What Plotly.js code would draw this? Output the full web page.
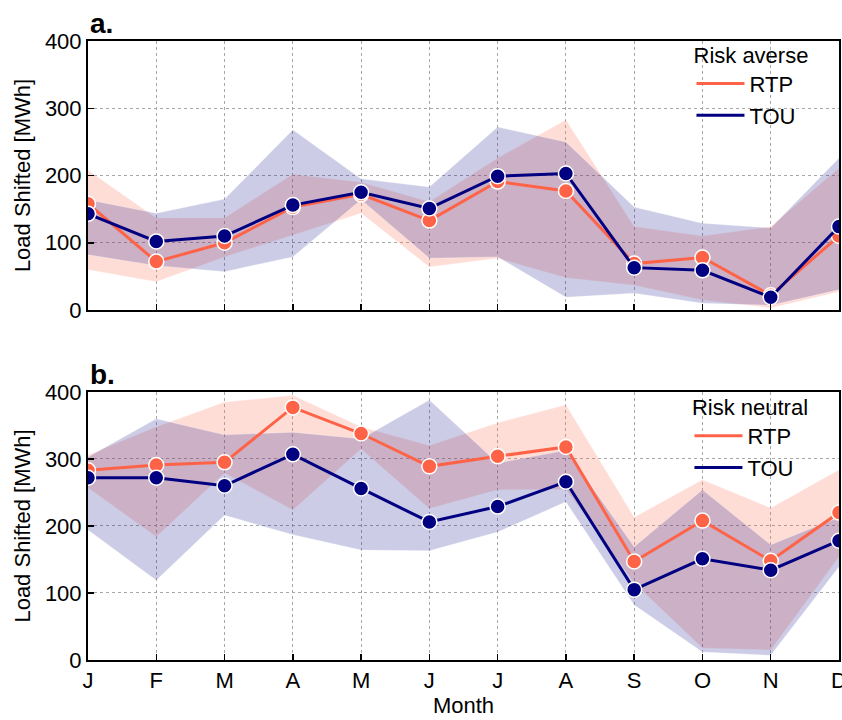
<!DOCTYPE html>
<html><head><meta charset="utf-8">
<script src="https://cdn.plot.ly/plotly-3.0.1.min.js"></script>
<style>html,body{margin:0;padding:0;background:#fff}#chart{width:842px;height:720px}</style>
</head><body><div id="chart"></div>
<script>
const months = ['J','F','M','A','M','J','J','A','S','O','N','D'];
const xIdx = [0,1,2,3,4,5,6,7,8,9,10,11];

// Panel a: Risk averse
const a_rtp    = [158, 72,100,153,172,133,191,177, 69, 78, 22,110];
const a_rtp_lo = [ 60, 42, 79,112,144, 64, 77, 48, 37, 15,  3, 27];
const a_rtp_hi = [208,137,137,202,190,161,226,283,124,110,124,211];
const a_tou    = [143,102,110,156,175,151,199,203, 63, 59, 19,124];
const a_tou_lo = [ 82, 66, 57, 79,164, 77, 79, 19, 25, 10,  7, 30];
const a_tou_hi = [164,144,165,268,195,183,272,250,153,129,122,226];

// Panel b: Risk neutral
const b_rtp    = [283,291,295,377,338,289,304,318,147,208,148,220];
const b_rtp_lo = [257,184,279,224,315,226,254,255,115, 18, 15,154];
const b_rtp_hi = [306,348,385,395,348,320,354,381,213,269,227,284];
const b_tou    = [272,272,260,307,256,206,229,266,105,151,134,178];
const b_tou_lo = [194,119,216,187,164,163,191,236, 82, 12,  7,139];
const b_tou_hi = [303,360,336,340,330,388,294,313,169,254,172,213];

const RTP = '#FF6347', TOU = '#000080';
const RTP_FILL = 'rgba(255,99,71,0.22)', TOU_FILL = 'rgba(0,0,128,0.2)';
const EDGE = 'rgba(255,255,255,0.35)';
const FONT = 'Liberation Sans, Arial, sans-serif';
const FS = 22;

function band(lo, hi, fill, xa, ya){
  return [
    {x:xIdx, y:lo, xaxis:xa, yaxis:ya, mode:'lines', line:{width:0.8,color:EDGE}, showlegend:false, hoverinfo:'skip'},
    {x:xIdx, y:hi, xaxis:xa, yaxis:ya, mode:'lines', line:{width:0.8,color:EDGE}, fill:'tonexty', fillcolor:fill, showlegend:false, hoverinfo:'skip'}
  ];
}
function line(y, color, xa, ya){
  return {x:xIdx, y:y, xaxis:xa, yaxis:ya, mode:'lines+markers', line:{color:color,width:3},
    marker:{size:15,color:color,line:{color:'#fff',width:1.5}}, showlegend:false};
}
function leg(name, color, lg, xa, ya){
  return {x:[null], y:[null], xaxis:xa, yaxis:ya, mode:'lines', name:name, line:{color:color,width:3}, legend:lg, showlegend:true};
}

const data = [
  ...band(a_rtp_lo, a_rtp_hi, RTP_FILL, 'x', 'y'),
  ...band(a_tou_lo, a_tou_hi, TOU_FILL, 'x', 'y'),
  line(a_rtp, RTP, 'x', 'y'),
  line(a_tou, TOU, 'x', 'y'),
  leg('RTP', RTP, 'legend', 'x', 'y'),
  leg('TOU', TOU, 'legend', 'x', 'y'),
  ...band(b_rtp_lo, b_rtp_hi, RTP_FILL, 'x2', 'y2'),
  ...band(b_tou_lo, b_tou_hi, TOU_FILL, 'x2', 'y2'),
  line(b_rtp, RTP, 'x2', 'y2'),
  line(b_tou, TOU, 'x2', 'y2'),
  leg('RTP', RTP, 'legend2', 'x2', 'y2'),
  leg('TOU', TOU, 'legend2', 'x2', 'y2')
];

const xBase = {range:[0,11], tickvals:xIdx, ticktext:months, showgrid:true, gridcolor:'#a8a8a8', griddash:'dot', gridwidth:1,
  ticks:'inside', ticklen:6, tickwidth:1.5, tickcolor:'#000', showline:true, linecolor:'#000', linewidth:2, mirror:true,
  zeroline:false, ticklabeloverflow:'allow', tickfont:{family:FONT,size:FS,color:'#000'}};
const yBase = {range:[0,400], tickvals:[0,100,200,300,400], showgrid:true, gridcolor:'#a8a8a8', griddash:'dot', gridwidth:1,
  ticks:'inside', ticklen:6, tickwidth:1.5, tickcolor:'#000', showline:true, linecolor:'#000', linewidth:2, mirror:true,
  zeroline:false, ticklabeloverflow:'allow', tickfont:{family:FONT,size:FS,color:'#000'},
  title:{text:'Load Shifted [MWh]', font:{family:FONT,size:FS,color:'#000'}, standoff:8}};

const legBase = {xanchor:'right', yanchor:'top', bgcolor:'rgba(0,0,0,0)', borderwidth:0, traceorder:'normal',
  itemwidth:48, font:{family:FONT,size:FS,color:'#000'}, tracegroupgap:0};

const layout = {
  width:842, height:720, margin:{l:88, r:3, t:41, b:60},
  paper_bgcolor:'#fff', plot_bgcolor:'#fff', font:{family:FONT,color:'#000'},
  xaxis: Object.assign({}, xBase, {domain:[0,1], anchor:'y', showticklabels:false}),
  yaxis: Object.assign({}, yBase, {domain:[0.5654,1], anchor:'x'}),
  xaxis2: Object.assign({}, xBase, {domain:[0,1], anchor:'y2', title:{text:'Month', font:{family:FONT,size:FS,color:'#000'}, standoff:4}}),
  yaxis2: Object.assign({}, yBase, {domain:[0,0.433], anchor:'x2'}),
  legend: Object.assign({}, legBase, {x:0.962, y:1.011, title:{text:'Risk averse', side:'top center', font:{family:FONT,size:FS,color:'#000'}}}),
  legend2: Object.assign({}, legBase, {x:0.962, y:0.442, title:{text:'Risk neutral', side:'top center', font:{family:FONT,size:FS,color:'#000'}}}),
  annotations:[
    {text:'<b>a.</b>', xref:'paper', yref:'paper', x:0, y:1, xanchor:'left', yanchor:'bottom', yshift:0, showarrow:false, font:{family:FONT,size:28,color:'#000'}},
    {text:'<b>b.</b>', xref:'paper', yref:'paper', x:0, y:0.433, xanchor:'left', yanchor:'bottom', yshift:0, showarrow:false, font:{family:FONT,size:28,color:'#000'}}
  ]
};
Plotly.newPlot('chart', data, layout, {displayModeBar:false, staticPlot:true});
</script></body></html>
